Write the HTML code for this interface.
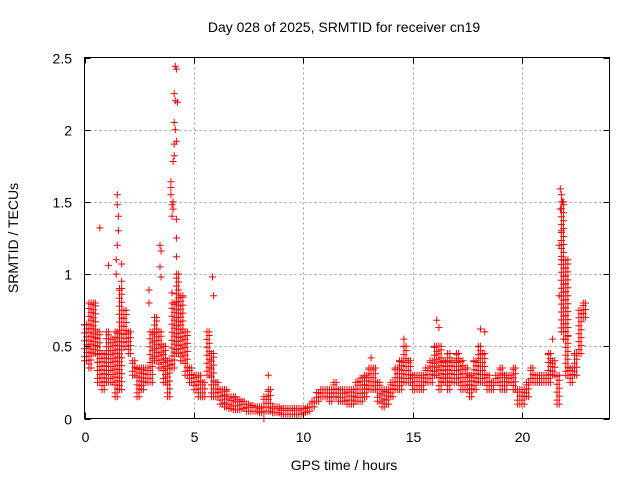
<!DOCTYPE html>
<html><head><meta charset="utf-8"><style>
body{margin:0;background:#fff}
svg{display:block;font-family:"Liberation Sans",sans-serif}
</style></head><body>
<svg id="chart" width="640" height="480" viewBox="0 0 640 480" xmlns="http://www.w3.org/2000/svg">
<rect x="0" y="0" width="640" height="480" fill="#fff"/>
<g id="grid"></g>
<g id="marks"></g>
<rect x="84.5" y="57.5" width="525" height="361" fill="none" stroke="#000" stroke-width="1"/>
<g id="ticks"></g>
<text x="344" y="32" font-size="14" text-anchor="middle">Day 028 of 2025, SRMTID for receiver cn19</text>
<text x="344" y="470" font-size="14" text-anchor="middle">GPS time / hours</text>
<text x="18" y="238" font-size="14" text-anchor="middle" transform="rotate(-90 18 238)">SRMTID / TECUs</text>
</svg>
<script>
const xTicks=[0,5,10,15,20];
const yTicks=[0,0.5,1,1.5,2,2.5];
const yTickLabels=["0","0.5","1","1.5","2","2.5"];
const binTimes=[0,0.2,0.4,0.6,0.8,1.0,1.2,1.4,1.6,1.8,2.0,2.2,2.4,2.6,2.8,3.0,3.2,3.4,3.6,3.8,4.0,4.2,4.4,4.6,4.8,5.0,5.2,5.4,5.6,5.8,6.0,6.2,6.4,6.6,6.8,7.0,7.2,7.4,7.6,7.8,8.0,8.2,8.4,8.6,8.8,9.0,9.2,9.4,9.6,9.8,10.0,10.2,10.4,10.6,10.8,11.0,11.2,11.4,11.6,11.8,12.0,12.2,12.4,12.6,12.8,13.0,13.2,13.4,13.6,13.8,14.0,14.2,14.4,14.6,14.8,15.0,15.2,15.4,15.6,15.8,16.0,16.2,16.4,16.6,16.8,17.0,17.2,17.4,17.6,17.8,18.0,18.2,18.4,18.6,18.8,19.0,19.2,19.4,19.6,19.8,20.0,20.2,20.4,20.6,20.8,21.0,21.2,21.4,21.6,21.8,22.0,22.2,22.4,22.6,22.8];
const binLow=[0.4,0.35,0.45,0.25,0.2,0.25,0.25,0.15,0.2,0.5,0.45,0.3,0.15,0.2,0.25,0.25,0.4,0.35,0.25,0.15,0.35,0.45,0.4,0.3,0.25,0.2,0.15,0.15,0.3,0.15,0.15,0.1,0.08,0.07,0.06,0.06,0.07,0.05,0.05,0.05,0.04,0.05,0.05,0.04,0.04,0.03,0.03,0.03,0.03,0.03,0.04,0.05,0.08,0.12,0.15,0.15,0.12,0.15,0.12,0.12,0.1,0.1,0.12,0.12,0.15,0.2,0.2,0.12,0.08,0.1,0.15,0.2,0.2,0.25,0.25,0.2,0.2,0.2,0.25,0.25,0.3,0.2,0.25,0.2,0.25,0.25,0.2,0.2,0.15,0.2,0.25,0.25,0.2,0.2,0.25,0.2,0.2,0.25,0.2,0.1,0.1,0.15,0.25,0.25,0.25,0.25,0.25,0.3,0.1,0.6,0.3,0.25,0.3,0.45,0.7];
const binHigh=[0.65,0.8,0.8,0.6,0.45,0.6,0.55,0.6,0.9,0.75,0.6,0.4,0.35,0.35,0.35,0.6,0.7,0.6,0.5,0.4,0.8,1.0,0.85,0.6,0.35,0.3,0.3,0.25,0.6,0.45,0.25,0.2,0.2,0.15,0.15,0.13,0.12,0.1,0.09,0.08,0.08,0.15,0.2,0.08,0.08,0.07,0.07,0.07,0.07,0.07,0.07,0.08,0.12,0.18,0.2,0.2,0.2,0.25,0.2,0.2,0.2,0.2,0.25,0.28,0.3,0.35,0.35,0.25,0.2,0.2,0.25,0.35,0.4,0.5,0.4,0.3,0.3,0.3,0.35,0.4,0.5,0.5,0.4,0.45,0.4,0.45,0.4,0.35,0.3,0.4,0.5,0.45,0.3,0.25,0.3,0.35,0.3,0.3,0.35,0.2,0.2,0.25,0.35,0.3,0.3,0.3,0.45,0.4,0.3,1.5,1.1,0.35,0.45,0.75,0.8];
const spikeTimes=[0.7,1.1,1.5,1.5,1.55,1.55,1.5,1.45,1.45,1.7,1.7,3.45,3.5,3.45,3.5,2.95,2.95,3.95,3.95,3.95,4.0,4.05,4.0,4.05,4.05,4.1,4.1,4.1,4.15,4.1,4.15,4.15,4.2,4.2,4.25,4.2,4.2,4.2,4.0,5.85,5.9,21.75,21.8,21.85,21.75,21.8,21.7,21.8,21.7,21.9,22.1,8.2,8.4,14.6,16.1,16.2,18.1,18.3,13.1,21.4];
const spikeValues=[1.32,1.06,1.55,1.48,1.4,1.3,1.2,1.1,1.0,1.07,0.95,1.2,1.16,1.05,0.98,0.89,0.8,1.64,1.6,1.55,1.48,1.45,1.4,1.5,1.78,1.82,1.9,2.05,2.0,2.25,2.2,2.44,2.42,1.92,2.19,1.38,1.25,1.12,0.87,0.98,0.85,1.59,1.55,1.5,1.45,1.3,1.2,1.1,0.85,0.55,0.57,0.0,0.3,0.55,0.68,0.63,0.62,0.6,0.42,0.55];

const NS="http://www.w3.org/2000/svg";
const X0=84.5,X1=609.5,Y0=418.5,Y1=57.5,XMAX=24,YMAX=2.5;
function xs(t){return X0+(t/XMAX)*(X1-X0);}
function ys(v){return Y0-(v/YMAX)*(Y0-Y1);}
const grid=document.getElementById('grid'),ticks=document.getElementById('ticks'),marks=document.getElementById('marks');
function mk(tag,attrs,parent){const e=document.createElementNS(NS,tag);for(const k in attrs)e.setAttribute(k,attrs[k]);parent.appendChild(e);return e;}
xTicks.forEach((t,i)=>{
  const x=Math.round(xs(t))+0.5;
  if(t>0){const g=mk('line',{x1:x,x2:x,y1:Y1,y2:Y0,stroke:'#a0a0a0','stroke-dasharray':'2,3'},grid);
  
  }
  const tk=mk('path',{d:`M${x},${Y0}v-6M${x},${Y1}v6`,stroke:'#000'},ticks);
  
  
  const l=mk('text',{x:x,y:442,'font-size':14,'text-anchor':'middle'},ticks);l.textContent=String(t);
  
  
});
yTicks.forEach((v,i)=>{
  const y=Math.round(ys(v))+0.5;
  if(v>0&&v<YMAX){const g=mk('line',{x1:X0,x2:X1,y1:y,y2:y,stroke:'#a0a0a0','stroke-dasharray':'2,3'},grid);
  
  }
  const tk=mk('path',{d:`M${X0},${y}h6M${X1},${y}h-6`,stroke:'#000'},ticks);
  
  
  const l=mk('text',{x:72,y:y+5,'font-size':14,'text-anchor':'end'},ticks);l.textContent=yTickLabels[i];
  
  
});
let d='';
function plus(t,v){const x=xs(t),y=ys(v);d+=`M${(x-3.5).toFixed(1)},${y.toFixed(1)}h7M${x.toFixed(1)},${(y-3.5).toFixed(1)}v7`;}
binTimes.forEach((t,i)=>{
  const lo=binLow[i],hi=binHigh[i];
  [0,0.1].forEach((dt,k)=>{
    plus(t+dt,lo);plus(t+dt,hi);
    const step=0.055;
    for(let v=lo+step*(k+1)/2;v<hi;v+=step)plus(t+dt,v);
  });
});
spikeTimes.forEach((t,i)=>plus(t,spikeValues[i]));
const p=mk('path',{d:d,stroke:'#ff0000','stroke-width':1,fill:'none'},marks);


</script>
</body></html>
